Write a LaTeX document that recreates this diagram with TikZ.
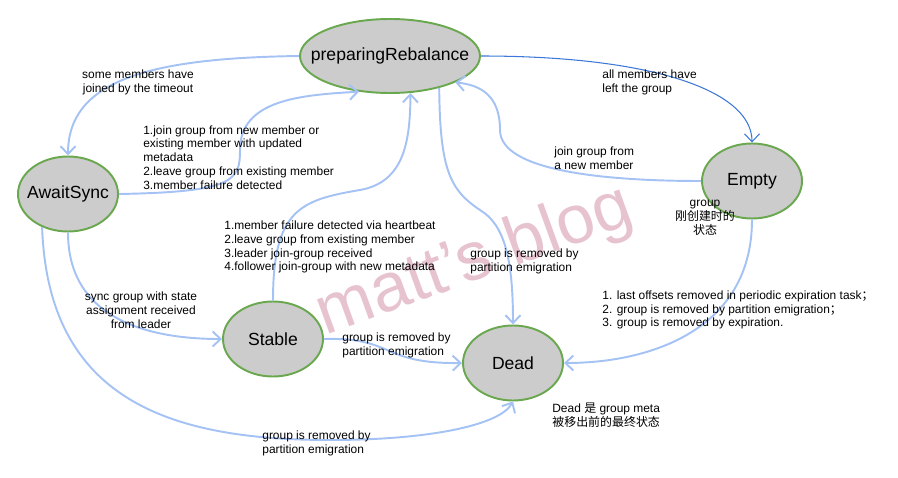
\documentclass[tikz,border=0pt]{standalone}
\usepackage{fontspec}
\setmainfont{Liberation Sans}
\newfontfamily\cjk{Noto Sans CJK SC}
\usetikzlibrary{arrows.meta,shapes.geometric}
\definecolor{stategray}{HTML}{CCCCCC}
\definecolor{stateedge}{HTML}{6AA84F}
\definecolor{flow}{HTML}{A4C2F4}
\definecolor{flowdark}{HTML}{3C78D8}
\definecolor{wmpink}{HTML}{E6C3CF}

\begin{document}
\begin{tikzpicture}[x=0.2mm,y=-0.2mm,
  state/.style={ellipse,draw=stateedge,line width=1.1pt,fill=stategray,
    minimum width=20mm,minimum height=15mm,inner sep=0pt,inner xsep=-2mm,
    font=\fontsize{10}{12}\selectfont},
  trans/.style={flow,line width=1.1pt,-{Straight Barb[length=1.6mm,width=3mm]}},
  lbl/.style={font=\fontsize{6.8}{7.9}\selectfont,inner sep=0pt,align=left,anchor=west}]
  \useasboundingbox (0,0) rectangle (898,477);
  \node[text=wmpink,rotate=20,font=\fontsize{39}{40}\selectfont] (wm) at (475,262) {matt's blog};

  \node[state,minimum width=36mm,minimum height=14.8mm,inner xsep=-4.5mm] (prep) at (390,56) {preparingRebalance};
  \node[state] (await) at (68,194) {AwaitSync};
  \node[state] (empty) at (752,181) {Empty};
  \node[state] (stable) at (273,339) {Stable};
  \node[state] (dead) at (513,363) {Dead};

  \draw[trans] (prep.west) .. controls (150,58) and (68,80) .. (await.north);
  \draw[trans] (await.east) .. controls (235,192) and (240,180) .. (240,150)
    .. controls (240,100) and (300,95) .. (prep.229);
  \draw[trans] (stable.north) .. controls (273,210) and (300,200) .. (360,190)
    .. controls (405,182) and (410,140) .. (prep.299);
  \draw[trans] (await.south) .. controls (68,320) and (150,339) .. (stable.west);
  \draw[trans] (await.232) .. controls (48,400) and (170,440) .. (330,440)
    .. controls (430,440) and (500,425) .. (dead.south);
  \draw[trans] (stable.east) .. controls (395,337) and (380,364) .. (dead.west);
  \draw[trans] (prep.327) .. controls (440,170) and (450,190) .. (480,210)
    .. controls (505,225) and (513,260) .. (dead.north);
  \draw[flowdark,line width=0.6pt,-{Straight Barb[length=1.6mm,width=3mm]}]
    (prep.east) .. controls (650,56) and (752,90) .. (empty.north);
  \draw[trans] (empty.west) .. controls (600,181) and (500,170) .. (500,130)
    .. controls (500,95) and (480,85) .. (prep.338);
  \draw[trans] (empty.south) .. controls (752,330) and (650,363) .. (dead.east);

  % transition labels
  \node[lbl,align=center,anchor=center] (l1) at (138,82) {some members have\\joined by the timeout};
  \node[lbl] (l2) at (143,157.5) {1.join group from new member or\\existing member with updated\\metadata\\2.leave group from existing member\\3.member failure detected};
  \node[lbl] (l3) at (224,247) {1.member failure detected via heartbeat\\2.leave group from existing member\\3.leader join-group received\\4.follower join-group with new metadata};
  \node[lbl,align=center,anchor=center] (l4) at (141,310) {sync group with state\\assignment received\\from leader};
  \node[lbl] (l5) at (262,443) {group is removed by\\partition emigration};
  \node[lbl] (l6) at (342,345) {group is removed by\\partition emigration};
  \node[lbl] (l7) at (470,261) {group is removed by\\partition emigration};
  \node[lbl] (l8) at (602,82) {all members have\\left the group};
  \node[lbl] (l9) at (554,158) {join group from\\a new member};
  \node[lbl] (l10) at (602,310) {1. last offsets removed in periodic expiration task{\cjk ；}\\2. group is removed by partition emigration{\cjk ；}\\3. group is removed by expiration.};

  % notes
  \node[lbl,align=center,anchor=center] (n1) at (705,218) {group\\{\cjk 刚创建时的}\\{\cjk 状态}};
  \node[lbl] (n2) at (552,415) {Dead {\cjk 是} group meta\\{\cjk 被移出前的最终状态}};
\end{tikzpicture}
\end{document}
